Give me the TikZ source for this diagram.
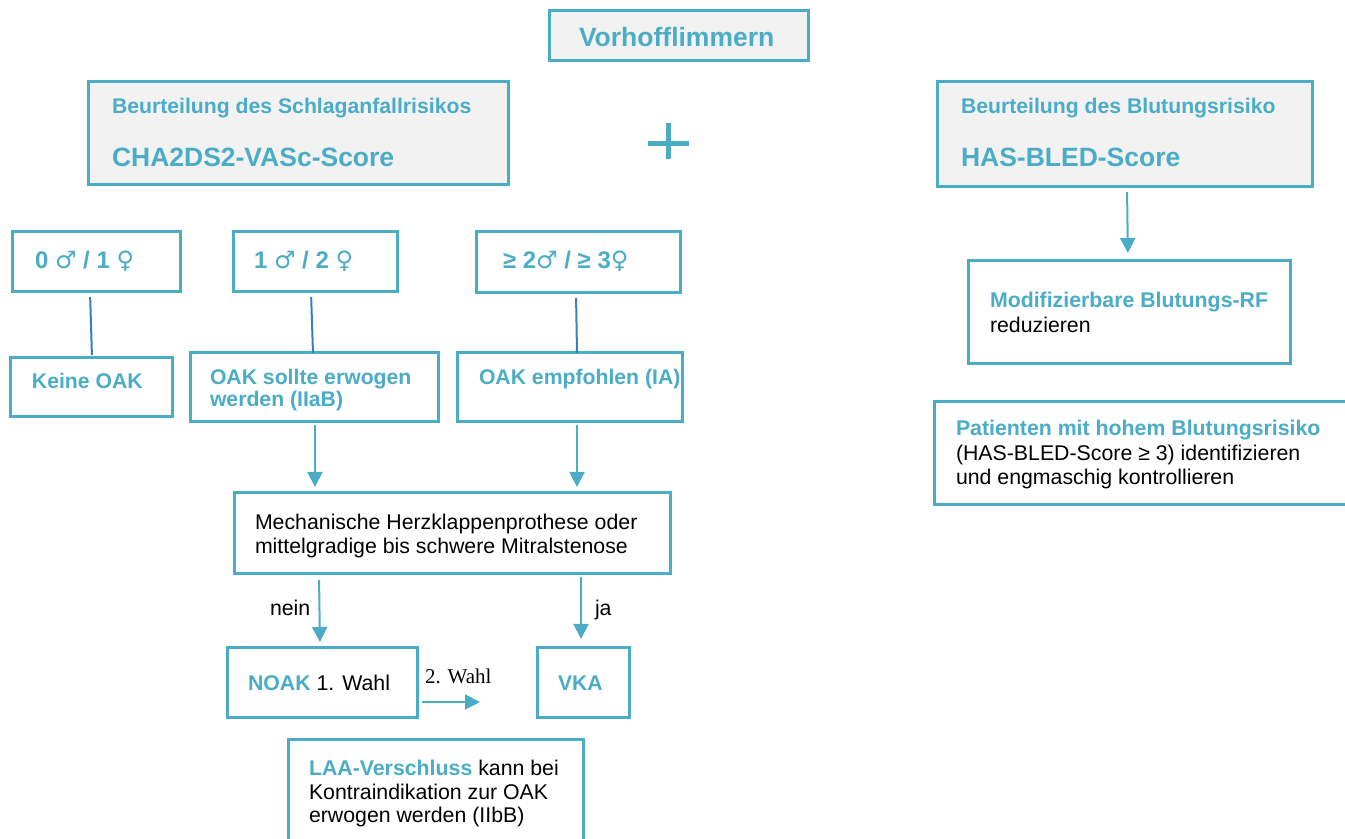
\documentclass[tikz,border=0pt]{standalone}
\usepackage{fontspec}
\setmainfont{Liberation Sans}
\newfontfamily\tnrfont{Liberation Serif}
\newfontfamily\gsym{DejaVu Sans}
\usetikzlibrary{arrows.meta,fit}
\definecolor{ablue}{HTML}{4BACC6}
\definecolor{dblue}{HTML}{3A7FC1}
\definecolor{lgray}{HTML}{F2F2F2}
\newcommand\blk[2]{\parbox[t]{#1}{\raggedright #2}}
\newcommand\ma{{\gsym\mdseries ♂}}
\newcommand\fe{{\gsym\mdseries ♀}}
\begin{document}
\begin{tikzpicture}[x=0.5pt,y=-0.5pt,
  box/.style={draw=ablue, line width=1.5pt, inner sep=0pt, outer sep=0pt, rectangle},
  gbox/.style={box, fill=lgray},
  txt/.style={inner sep=0pt, outer sep=0pt, anchor=base west},
  arr/.style={draw=ablue, line width=1pt, -{Triangle[width=7.5pt,length=7.5pt]}},
  link/.style={draw=dblue, line width=1pt},
  body/.style={font=\fontsize{10.65}{12}\selectfont},
  hd/.style={text=ablue, font=\bfseries\fontsize{10.6}{12}\selectfont},
  big/.style={text=ablue, font=\bfseries\fontsize{13.25}{16}\selectfont},
  score/.style={text=ablue, font=\bfseries\fontsize{12}{14}\selectfont}
]
\useasboundingbox (0,0) rectangle (1345,839);
\clip (0,0) rectangle (1345,839);
\fill[white] (0,0) rectangle (1345,839);

% boxes
\node[gbox, fit={(549,11) (808,61)}] (vf) {};
\node[gbox, fit={(88,82) (508,185)}] (schlag) {};
\node[gbox, fit={(937,82) (1312,187)}] (hasbled) {};
\node[box, fit={(968,261) (1290,364)}] (modif) {};
\node[box, fit={(934,402) (1362,505)}] (pat) {};
\node[box, fit={(12,232) (180,292)}] (s0) {};
\node[box, fit={(233,232) (397,292)}] (s1) {};
\node[box, fit={(476,232) (680,293)}] (s2) {};
\node[box, fit={(10,358) (172,417)}] (keine) {};
\node[box, fit={(190,353) (438,422)}] (sollte) {};
\node[box, fit={(457,353) (682,422)}] (empf) {};
\node[box, fit={(234,493) (670,574)}] (mech) {};
\node[box, fit={(227,648) (417,717)}] (noak) {};
\node[box, fit={(537,648) (629,717)}] (vka) {};
\node[box, fit={(288,739) (583,852)}] (laa) {};

% plus sign
\draw[ablue, line width=2.5pt] (648,143.5) -- (689,143.5);
\draw[ablue, line width=2.5pt] (668.5,123) -- (668.5,159);

% texts
\node[txt, big] (tvf) at (579,47) {Vorhofflimmern};
\node[txt, hd] (tsch1) at (112,114) {Beurteilung des Schlaganfallrisikos};
\node[txt, big] (tsch2) at (112,167) {CHA2DS2-VASc-Score};
\node[txt, hd] (thb1) at (961,114) {Beurteilung des Blutungsrisiko};
\node[txt, big] (thb2) at (961,167) {HAS-BLED-Score};
\node[txt, font=\fontsize{10.65}{12.5}\selectfont] (tmod) at (990,308)
  {\blk{8cm}{\textcolor{ablue}{\bfseries Modifizierbare Blutungs-RF}\\reduzieren}};
\node[txt, font=\fontsize{10.65}{12.25}\selectfont] (tpat) at (956,436)
  {\blk{8cm}{\textcolor{ablue}{\bfseries Patienten mit hohem Blutungsrisiko}\\(HAS-BLED-Score ≥ 3) identifizieren\\und engmaschig kontrollieren}};
\node[txt, score] (ts0) at (35,269) {0 \ma{} / 1 \fe};
\node[txt, score] (ts1) at (254,269) {1 \ma{} / 2 \fe};
\node[txt, score] (ts2) at (503,269) {≥ 2\ma{} / ≥ 3\fe};
\node[txt, hd] (tkeine) at (32,389) {Keine OAK};
\node[txt, hd, font=\bfseries\fontsize{10.6}{11}\selectfont] (tsollte) at (210,385)
  {\blk{6cm}{OAK sollte erwogen\\werden (IIaB)}};
\node[txt, hd] (tempf) at (479,385) {OAK empfohlen (IA)};
\node[txt, font=\fontsize{10.65}{11.75}\selectfont] (tmech) at (255,530)
  {\blk{9cm}{Mechanische Herzklappenprothese oder\\mittelgradige bis schwere Mitralstenose}};
\node[txt, body] (tnein) at (270,616) {nein};
\node[txt, body] (tja) at (595,616) {ja};
\node[txt, body] (tnoak) at (248,690) {\textcolor{ablue}{\bfseries NOAK} 1. Wahl};
\node[txt, hd] (tvka) at (558,690) {VKA};
\node[txt, font=\tnrfont\fontsize{10.5}{12}\selectfont] (twahl) at (425,683) {2. Wahl};
\node[txt, font=\fontsize{10.65}{12}\selectfont] (tlaa) at (309,775)
  {\blk{8cm}{\textcolor{ablue}{\bfseries LAA-Verschluss} kann bei\\Kontraindikation zur OAK\\erwogen werden (IIbB)}};

% connectors
\coordinate (w2) at (480,702);
\draw[link, shorten <=2.5pt, shorten >=1.5pt] ([xshift=-3pt]s0.south) -- ([xshift=0.5pt]keine.north);
\draw[link, shorten <=2.5pt] ([xshift=-2pt]s1.south) -- ([xshift=-0.5pt]sollte.north);
\draw[link, shorten <=2.5pt] ([xshift=-1pt]s2.south) -- ([xshift=3.75pt]empf.north);
\draw[arr, shorten <=1.5pt, shorten >=3pt] ([xshift=0.5pt]sollte.south) -- ([xshift=-68.5pt]mech.north);
\draw[arr, shorten <=1.5pt, shorten >=3pt] ([xshift=3.75pt]empf.south) -- ([xshift=62.5pt]mech.north);
\draw[arr, shorten <=3pt, shorten >=3pt] ([xshift=-66.5pt]mech.south) -- ([xshift=-1pt]noak.north);
\draw[arr, shorten <=1.5pt, shorten >=4.5pt] ([xshift=64.5pt]mech.south) -- ([xshift=-1pt]vka.north);
\draw[arr, shorten <=2.5pt] ([yshift=-9.75pt]noak.east) -- (w2);
\draw[arr, shorten <=2.5pt, shorten >=4pt] ([xshift=1.25pt]hasbled.south) -- ([xshift=-0.5pt]modif.north);
\end{tikzpicture}
\end{document}
